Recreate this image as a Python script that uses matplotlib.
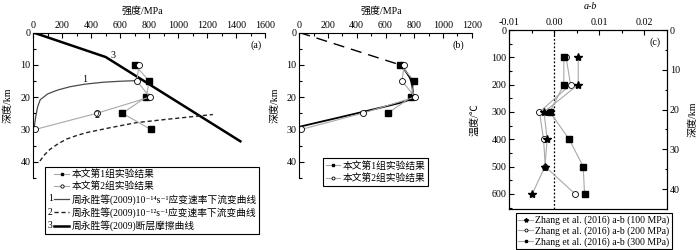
import numpy as np
import matplotlib
matplotlib.use('Agg')
import matplotlib.pyplot as plt
from matplotlib.ticker import MultipleLocator, FormatStrFormatter
from matplotlib.legend_handler import HandlerLine2D
from matplotlib.text import Text

plt.rcParams['font.family'] = ['Liberation Serif', 'Noto Sans CJK SC', 'DejaVu Serif']
plt.rcParams['axes.unicode_minus'] = False
plt.rcParams['font.size'] = 7.2
plt.rcParams['axes.linewidth'] = 0.8

# ---------------- data ----------------
exp_depth = [10, 15, 20, 25, 30]
group1_strength = [700, 800, 780, 615, 810]
group2_strength = [730, 715, 805, 440, 15]

friction_depth = [0, 7.6, 33.7]
friction_strength = [0, 500, 1430]

curve1_depth = [14.9, 15.1, 15.4, 16.0, 16.8, 17.8, 19.0, 20.8, 23.0, 26.0, 28.5, 30.5]
curve1_strength = [713, 600, 483, 356, 253, 170, 100, 48, 30, 17, 9, 4]

curve2_depth = [39.8, 38.0, 36.2, 34.5, 33.0, 31.9, 31.0, 29.5, 27.9, 26.9, 25.4]
curve2_strength = [46, 75, 115, 170, 230, 300, 368, 529, 713, 920, 1240]

b_dash_depth = [0, 10]
b_dash_strength = [0, 700]
b_curve_depth = [10, 12, 14, 16, 18, 19.5, 20.5, 21.2, 21.8, 22.7, 24.5, 26.6, 29.2]
b_curve_strength = [700, 740, 770, 785, 790, 786, 772, 745, 700, 620, 450, 250, 0]

temperature = [100, 200, 300, 400, 500, 600]
ab_100 = [0.0053, 0.0053, -0.0023, -0.0016, -0.0021, -0.0049]
ab_200 = [0.0026, 0.0036, -0.0033, -0.0024, -0.0020, 0.0046]
ab_300 = [0.0021, 0.0021, -0.0010, 0.0033, 0.0064, 0.0067]

xticks_a = [0, 200, 400, 600, 800, 1000, 1200, 1400, 1600]
xticks_b = [0, 200, 400, 600, 800, 1000, 1200]
yticks_depth = [0, 10, 20, 30, 40]
xticks_c = [-0.01, 0.00, 0.01, 0.02]
yticks_c = [0, 100, 200, 300, 400, 500, 600]

label_g1 = '本文第1组实验结果'
label_g2 = '本文第2组实验结果'
label_c1 = '周永胜等(2009)10⁻¹⁴s⁻¹应变速率下流变曲线'
label_c2 = '周永胜等(2009)10⁻¹²s⁻¹应变速率下流变曲线'
label_c3 = '周永胜等(2009)断层摩擦曲线'
label_z = ['Zhang et al. (2016) a-b (100 MPa)',
           'Zhang et al. (2016) a-b (200 MPa)',
           'Zhang et al. (2016) a-b (300 MPa)']

GRAY = '#a8a8a8'


class NumHandler(HandlerLine2D):
    def __init__(self, num='', start=0.3, **kw):
        super().__init__(**kw)
        self.num = num
        self.start = start

    def get_xdata(self, legend, xdescent, ydescent, width, height, fontsize):
        x0 = -xdescent + self.start * width
        x1 = -xdescent + width
        return np.array([x0, x1]), np.array([(x0 + x1) / 2])

    def create_artists(self, legend, orig_handle, xdescent, ydescent,
                       width, height, fontsize, trans):
        arts = super().create_artists(legend, orig_handle, xdescent, ydescent,
                                      width, height, fontsize, trans)
        if self.num:
            t = Text(-xdescent, (height - ydescent) / 2, self.num,
                     ha='left', va='center', fontsize=fontsize)
            t.set_transform(trans)
            arts.append(t)
        return arts


W, H = 700, 250
def rect(l, r, t, b):
    return [l / W, 1 - b / H, (r - l) / W, (b - t) / H]

fig = plt.figure(figsize=(7, 2.5), dpi=100)
fig.patch.set_facecolor('white')

axA = fig.add_axes(rect(33.3, 265, 32.5, 177.8))
axB = fig.add_axes(rect(299.3, 471.7, 32.5, 177.8))
axC = fig.add_axes(rect(509.3, 667, 30, 209))


def style_depth_axis(ax, xmax, xticks):
    ax.set_xlim(0, xmax)
    ax.set_ylim(45, 0)
    ax.spines['right'].set_visible(False)
    ax.spines['bottom'].set_visible(False)
    ax.xaxis.tick_top()
    ax.xaxis.set_label_position('top')
    ax.set_xticks(xticks)
    ax.set_yticks(yticks_depth)
    ax.xaxis.set_minor_locator(MultipleLocator(100))
    ax.yaxis.set_minor_locator(MultipleLocator(5))
    ax.tick_params(which='both', direction='in', width=0.8, pad=2)
    ax.tick_params(which='major', length=3.5)
    ax.tick_params(which='minor', length=1.8)
    ax.set_xlabel('强度/MPa', fontsize=7.2)
    ax.set_ylabel('深度/km', fontsize=7.2)


# ---------------- panel (a) ----------------
style_depth_axis(axA, 1600, xticks_a)
h3, = axA.plot(friction_strength, friction_depth, color='black', lw=1.8)
h1, = axA.plot(curve1_strength, curve1_depth, color='#4a4a4a', lw=0.9)
h2, = axA.plot(curve2_strength, curve2_depth, color='#222222', lw=1.0, ls=(0, (3, 2)))
hg1, = axA.plot(group1_strength, exp_depth, color=GRAY, lw=0.8, marker='s', ms=3.8,
                mfc='black', mec='black')
hg2, = axA.plot(group2_strength, exp_depth, color=GRAY, lw=0.8, marker='o', ms=4.3,
                mfc='white', mec='black', mew=0.6)
axA.text(552, 7.0, '3', ha='center', va='center')
axA.text(357, 14.7, '1', ha='center', va='center')
axA.text(437, 25.6, '2', ha='center', va='center')
axA.text(1575, 4.0, '(a)', ha='right', va='center')
axA.xaxis.set_label_coords(0.47, 1.128)
axA.yaxis.set_label_coords(-0.088, 0.5)

legA = axA.legend([hg1, hg2, h1, h2, h3], [label_g1, label_g2, label_c1, label_c2, label_c3],
                  handler_map={hg1: NumHandler(''), hg2: NumHandler(''),
                               h1: NumHandler('1'), h2: NumHandler('2'), h3: NumHandler('3')},
                  loc='upper left', bbox_to_anchor=(45 / W, 1 - 166.7 / H),
                  bbox_transform=fig.transFigure, borderaxespad=0, fancybox=False,
                  edgecolor='black', framealpha=1, fontsize=7, borderpad=0.3,
                  labelspacing=0.25, handlelength=2.2, handletextpad=0.2, markerscale=0.55)
legA.get_frame().set_linewidth(0.8)

# ---------------- panel (b) ----------------
style_depth_axis(axB, 1200, xticks_b)
axB.plot(b_dash_strength, b_dash_depth, color='black', lw=1.0, ls=(0, (8, 5)))
axB.plot(b_curve_strength, b_curve_depth, color='black', lw=1.3)
hb1, = axB.plot(group1_strength[:4], exp_depth[:4], color=GRAY, lw=0.8, marker='s', ms=3.8,
                mfc='black', mec='black')
hb2, = axB.plot(group2_strength, exp_depth, color=GRAY, lw=0.8, marker='o', ms=4.3,
                mfc='white', mec='black', mew=0.6)
axB.text(1150, 4.0, '(b)', ha='right', va='center')
axB.xaxis.set_label_coords(0.474, 1.128)
axB.yaxis.set_label_coords(-0.112, 0.5)
legB = axB.legend([hb1, hb2], [label_g1, label_g2],
                  handler_map={hb1: NumHandler('', start=0.0), hb2: NumHandler('', start=0.0)},
                  loc='upper left', bbox_to_anchor=(323 / W, 1 - 158 / H),
                  bbox_transform=fig.transFigure, borderaxespad=0, fancybox=False,
                  edgecolor='black', framealpha=1, fontsize=7, borderpad=0.3,
                  labelspacing=0.3, handlelength=1.4, handletextpad=0.3, markerscale=0.5)
legB.get_frame().set_linewidth(0.8)

# ---------------- panel (c) ----------------
axC.axvline(0, color='black', ls=(0, (1.5, 1.5)), lw=0.9)
hz2, = axC.plot(ab_200, temperature, color=GRAY, lw=0.8, marker='o', ms=4.3,
                mfc='white', mec='black', mew=0.6)
hz3, = axC.plot(ab_300, temperature, color=GRAY, lw=0.8, marker='s', ms=3.8,
                mfc='black', mec='black')
hz1, = axC.plot(ab_100, temperature, color=GRAY, lw=0.8, marker='*', ms=6,
                mfc='black', mec='black')
axC.set_xlim(-0.01, 0.025)
axC.set_ylim(655, 0)
axC.xaxis.tick_top()
axC.xaxis.set_label_position('top')
axC.set_xticks(xticks_c)
axC.xaxis.set_major_formatter(FormatStrFormatter('%.2f'))
axC.set_yticks(yticks_c)
axC.xaxis.set_minor_locator(MultipleLocator(0.005))
axC.yaxis.set_minor_locator(MultipleLocator(50))
axC.tick_params(which='both', direction='in', width=0.8, pad=2)
axC.tick_params(which='major', length=3.5)
axC.tick_params(which='minor', length=1.8)
axC.set_xlabel('a-b', fontstyle='italic', fontsize=7.2)
axC.set_ylabel('温度/℃', fontsize=7.2)
axC.xaxis.set_label_coords(0.512, 1.116)
axC.yaxis.set_label_coords(-0.186, 0.5)
axC.text(0.0235, 43, '(c)', ha='right', va='center')

axC2 = axC.twinx()
axC2.set_ylim(45, 0)
axC2.set_yticks(yticks_depth)
axC2.yaxis.set_minor_locator(MultipleLocator(5))
axC2.tick_params(which='both', direction='in', width=0.8, pad=2)
axC2.tick_params(which='major', length=3.5)
axC2.tick_params(which='minor', length=1.8)
axC2.set_ylabel('深度/km', fontsize=7.2)
axC2.yaxis.set_label_coords(1.133, 0.5)

legC = axC.legend([hz1, hz2, hz3], label_z,
                  handler_map={hz1: NumHandler('', start=0.0), hz2: NumHandler('', start=0.0),
                               hz3: NumHandler('', start=0.0)},
                  loc='upper left', bbox_to_anchor=(516 / W, 1 - 213.3 / H),
                  bbox_transform=fig.transFigure, borderaxespad=0, fancybox=False,
                  edgecolor='black', framealpha=1, fontsize=7, borderpad=0.25,
                  labelspacing=0.1, handlelength=1.5, handletextpad=0.2, markerscale=0.5)
legC.get_frame().set_linewidth(0.8)

fig.savefig('out.png', dpi=100, facecolor='white')
